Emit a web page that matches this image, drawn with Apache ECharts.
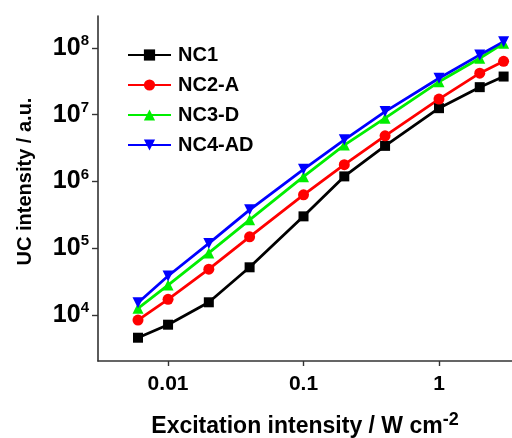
<!DOCTYPE html>
<html>
<head>
<meta charset="utf-8">
<script src="https://cdn.jsdelivr.net/npm/echarts@6/dist/echarts.min.js"></script>
<style>
  html, body { margin: 0; padding: 0; background: #fff; }
  #chart { width: 512px; height: 438px; }
</style>
</head>
<body>
<div id="chart"></div>
<script>
// excitation power density (W cm^-2)
const power = [0.006, 0.01, 0.02, 0.04, 0.1, 0.2, 0.4, 1, 2, 3];

// UC intensity
const nc1 = [4570, 7160, 15500, 51800, 3.0e5, 1.19e6, 3.41e6, 1.25e7, 2.58e7, 3.72e7];
const nc2A = [8400, 17200, 48500, 1.48e5, 6.3e5, 1.78e6, 4.82e6, 1.71e7, 4.18e7, 6.3e7];
const nc3D = [12600, 28100, 85000, 2.66e5, 1.18e6, 3.5e6, 8.85e6, 3.1e7, 7.0e7, 1.17e8];
const nc4AD = [15300, 38400, 1.18e5, 3.76e5, 1.52e6, 4.2e6, 1.11e7, 3.5e7, 7.85e7, 1.24e8];

const xTicks = [0.01, 0.1, 1];
const yTicks = [1e4, 1e5, 1e6, 1e7, 1e8];

const font = 'Liberation Sans, Arial, sans-serif';

const makeSeries = (name, values, color, symbol, rotate) => ({
  name,
  type: 'line',
  data: power.map((p, i) => [p, values[i]]),
  symbol,
  symbolSize: symbol === 'rect' ? 10 : 11,
  symbolRotate: rotate || 0,
  itemStyle: { color },
  lineStyle: { color, width: 2.8 },
  z: 3
})

const chart = echarts.init(document.getElementById('chart'))

chart.setOption({
  animation: false,
  grid: { left: 98, top: 16, right: 0, bottom: 77, outerBoundsMode: 'none', containLabel: false },
  legend: {
    orient: 'vertical',
    left: 127,
    top: 45,
    padding: 0,
    itemWidth: 43,
    itemHeight: 14,
    itemGap: 10,
    textStyle: { fontFamily: font, fontWeight: 'bold', fontSize: 20, color: '#000', padding: [0, 0, 0, 2] },
    data: ['NC1', 'NC2-A', 'NC3-D', 'NC4-AD']
  },
  xAxis: {
    type: 'log',
    min: 0.00304,
    max: 3.46,
    name: 'Excitation intensity / W cm{sup|-2}',
    nameLocation: 'middle',
    nameGap: 50,
    nameTextStyle: {
      fontFamily: font, fontWeight: 'bold', fontSize: 23, color: '#000',
      rich: { sup: { fontFamily: font, fontWeight: 'bold', fontSize: 18, color: '#000', verticalAlign: 'top', padding: [0, 0, 14, 0] } }
    },
    axisLine: { lineStyle: { color: '#333', width: 1.6 } },
    axisTick: { customValues: xTicks, length: 5, lineStyle: { color: '#333', width: 1.4 } },
    axisLabel: {
      customValues: xTicks,
      margin: 13,
      fontFamily: font, fontWeight: 'bold', fontSize: 21, color: '#000',
      formatter: v => String(v)
    },
    splitLine: { show: false },
    minorTick: { show: false }
  },
  yAxis: {
    type: 'log',
    min: 2048,
    max: 3.0e8,
    name: 'UC intensity / a.u.',
    nameLocation: 'middle',
    nameGap: 63,
    nameTextStyle: { fontFamily: font, fontWeight: 'bold', fontSize: 20, color: '#000', padding: [0, 0, 0, 14] },
    axisLine: { show: true, lineStyle: { color: '#333', width: 1.6 } },
    axisTick: { customValues: yTicks, length: 6, lineStyle: { color: '#333', width: 1.4 } },
    axisLabel: {
      customValues: yTicks,
      margin: 9,
      fontFamily: font, fontWeight: 'bold', fontSize: 25, color: '#000',
      formatter: v => '10{sup|' + Math.round(Math.log10(v)) + '}',
      rich: { sup: { fontFamily: font, fontWeight: 'bold', fontSize: 15, color: '#000', verticalAlign: 'top', padding: [0, 0, 14, 0] } }
    },
    splitLine: { show: false }
  },
  series: [
    makeSeries('NC1', nc1, '#000000', 'rect'),
    makeSeries('NC2-A', nc2A, '#ff0000', 'circle'),
    makeSeries('NC3-D', nc3D, '#00ee00', 'triangle'),
    makeSeries('NC4-AD', nc4AD, '#0000ff', 'triangle', 180)
  ]
})
</script>
</body>
</html>
